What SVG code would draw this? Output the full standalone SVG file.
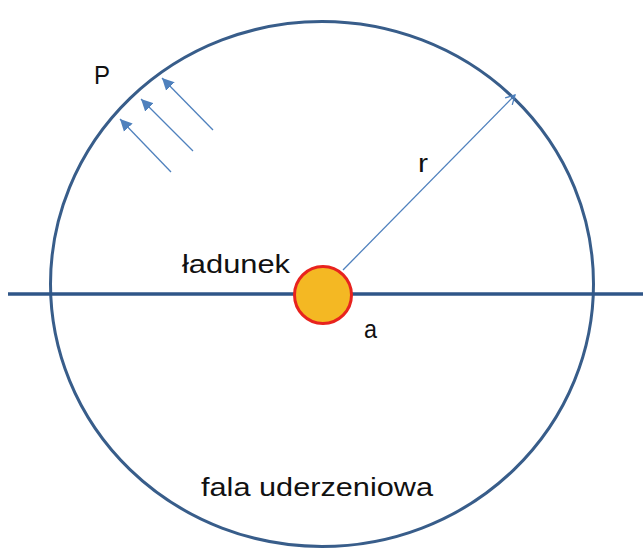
<svg xmlns="http://www.w3.org/2000/svg" width="643" height="548" viewBox="0 0 643 548">
<style>
.lbl{font-family:"Liberation Sans",Arial,sans-serif;font-size:25px;fill:#111}
.thin{stroke:#4F81BD;stroke-width:1.3;fill:none}
</style>
<defs>
<marker id="open" markerWidth="12" markerHeight="12" refX="10" refY="6" orient="auto" markerUnits="userSpaceOnUse">
<path d="M1,1 L10,6 L1,11" fill="none" stroke="#4F81BD" stroke-width="1.3"/>
</marker>
<marker id="tri" markerWidth="14" markerHeight="14" refX="12" refY="7" orient="auto" markerUnits="userSpaceOnUse">
<path d="M0,1 L12,7 L0,13 Z" fill="#4F81BD"/>
</marker>
</defs>
<rect width="643" height="548" fill="#fff"/>
<g id="wave">
<ellipse cx="322" cy="284" rx="271.5" ry="262.5" fill="none" stroke="#385D8A" stroke-width="3"/>
</g>
<g id="axis">
<line x1="8" y1="294" x2="643" y2="294" stroke="#2F5688" stroke-width="3.5"/>
</g>
<g id="connectors">
<line class="thin" x1="343" y1="270" x2="515" y2="95" marker-end="url(#open)"/>
<line class="thin" x1="171" y1="172" x2="120" y2="119" marker-end="url(#tri)"/>
<line class="thin" x1="193" y1="151" x2="141" y2="99" marker-end="url(#tri)"/>
<line class="thin" x1="213" y1="130" x2="162" y2="78" marker-end="url(#tri)"/>
</g>
<g id="charge">
<circle cx="323" cy="295" r="28.5" fill="#F4B823" stroke="#E8231E" stroke-width="3"/>
</g>
<g id="labels">
<text class="lbl" x="94" y="84" textLength="16" lengthAdjust="spacingAndGlyphs">P</text>
<text class="lbl" x="418" y="172" textLength="10" lengthAdjust="spacingAndGlyphs">r</text>
<text class="lbl" x="182" y="273" textLength="108" lengthAdjust="spacingAndGlyphs">ładunek</text>
<text class="lbl" x="364" y="338" textLength="13" lengthAdjust="spacingAndGlyphs">a</text>
<text class="lbl" x="201" y="496" textLength="232" lengthAdjust="spacingAndGlyphs">fala uderzeniowa</text>
</g>
</svg>
